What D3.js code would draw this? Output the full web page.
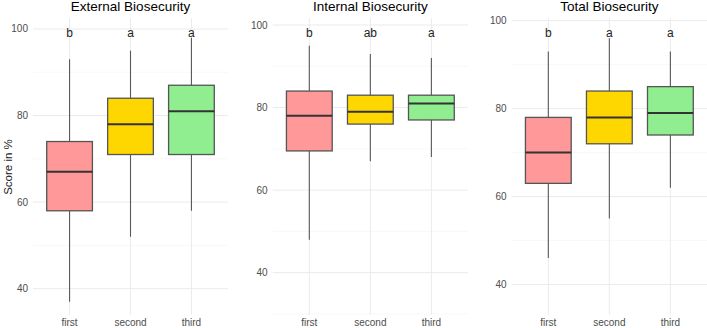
<!DOCTYPE html>
<html>
<meta charset="utf-8">
<title>Biosecurity scores</title>
<style>
	body {
		margin: 0;
		background: #fff;
		font-family: "Liberation Sans", Arial, sans-serif;
	}

	.grid-major {
		stroke: #ebebeb;
		stroke-width: 1;
	}

	.grid-minor {
		stroke: #f3f3f3;
		stroke-width: 0.6;
	}

	.tick-label {
		font-size: 10px;
		fill: #4d4d4d;
	}

	.title {
		font-size: 13.5px;
		fill: #000;
	}

	.letter {
		font-size: 12px;
		fill: #222;
	}
</style>

<body>
	<svg id="chart" width="707" height="328"></svg>

	<script src="https://cdnjs.cloudflare.com/ajax/libs/d3/7.8.5/d3.min.js"></script>
	<script>
		var groups = ["first", "second", "third"];
		var colors = ["#FF9999", "#FFD700", "#90EE90"];
		var titles = ["External Biosecurity", "Internal Biosecurity", "Total Biosecurity"];

		// box stats per group: [lower whisker, q1, median, q3, upper whisker]
		var external = [
			[37, 58, 67, 74, 93],
			[52, 71, 78, 84, 95],
			[58, 71, 81, 87, 98]
		];
		var internal = [
			[48, 69.5, 78, 84, 95],
			[67, 76, 79, 83, 93],
			[68, 77, 81, 83, 92]
		];
		var total = [
			[46, 63, 70, 78, 93],
			[55, 72, 78, 84, 96],
			[62, 74, 79, 85, 93]
		];

		var externalLetters = ["b", "a", "a"];
		var internalLetters = ["b", "ab", "a"];
		var totalLetters = ["b", "a", "a"];

		// y range of each panel (includes hidden outliers in the original)
		var yDomains = [[33.92, 102.54], [29.75, 101.70], [33.06, 100.61]];
		var letterY = [99.1, 98.1, 97.2];
		var majorTicks = [40, 60, 80, 100];
		var minorTicks = [30, 50, 70, 90];

		var panels = [
			{ title: titles[0], stats: external, letters: externalLetters, x0: 33, x1: 228 },
			{ title: titles[1], stats: internal, letters: internalLetters, x0: 272.7, x1: 468 },
			{ title: titles[2], stats: total, letters: totalLetters, x0: 511.7, x1: 707 }
		];

		var plotTop = 18,
			plotBottom = 315;

		var svg = d3.select("#chart");

		panels.forEach(function (p, i) {
			var g = svg.append("g");

			var y = d3.scaleLinear()
				.domain(yDomains[i])
				.range([plotBottom, plotTop]);

			var x = d3.scaleBand()
				.domain(groups)
				.range([p.x0, p.x1])
				.paddingOuter(0.1);

			var boxW = x.step() * 0.75;
			var cx = function (d) { return x(d) + x.bandwidth() / 2; };

			// grid
			g.selectAll(".grid-minor")
				.data(minorTicks.filter(function (t) { return t >= yDomains[i][0] && t <= yDomains[i][1]; }))
				.enter().append("line")
				.attr("class", "grid-minor")
				.attr("x1", p.x0).attr("x2", p.x1)
				.attr("y1", y).attr("y2", y);

			g.selectAll(".grid-h")
				.data(majorTicks)
				.enter().append("line")
				.attr("class", "grid-major")
				.attr("x1", p.x0).attr("x2", p.x1)
				.attr("y1", y).attr("y2", y);

			g.selectAll(".grid-v")
				.data(groups)
				.enter().append("line")
				.attr("class", "grid-major")
				.attr("x1", cx).attr("x2", cx)
				.attr("y1", plotTop).attr("y2", plotBottom);

			// axis labels
			g.selectAll(".ylab")
				.data(majorTicks)
				.enter().append("text")
				.attr("class", "tick-label")
				.attr("x", p.x0 - 5)
				.attr("y", y)
				.attr("dy", "0.35em")
				.attr("text-anchor", "end")
				.text(function (d) { return d; });

			g.selectAll(".xlab")
				.data(groups)
				.enter().append("text")
				.attr("class", "tick-label")
				.attr("x", cx)
				.attr("y", 326)
				.attr("text-anchor", "middle")
				.text(function (d) { return d; });

			// boxes
			var box = g.selectAll(".box")
				.data(p.stats)
				.enter().append("g");

			box.append("line")
				.attr("x1", function (d, j) { return cx(groups[j]); })
				.attr("x2", function (d, j) { return cx(groups[j]); })
				.attr("y1", function (d) { return y(d[0]); })
				.attr("y2", function (d) { return y(d[4]); })
				.attr("stroke", "#595959")
				.attr("stroke-width", 1.1);

			box.append("rect")
				.attr("x", function (d, j) { return cx(groups[j]) - boxW / 2; })
				.attr("width", boxW)
				.attr("y", function (d) { return y(d[3]); })
				.attr("height", function (d) { return y(d[1]) - y(d[3]); })
				.attr("fill", function (d, j) { return colors[j]; })
				.attr("stroke", "#555")
				.attr("stroke-width", 1.3);

			box.append("line")
				.attr("x1", function (d, j) { return cx(groups[j]) - boxW / 2; })
				.attr("x2", function (d, j) { return cx(groups[j]) + boxW / 2; })
				.attr("y1", function (d) { return y(d[2]); })
				.attr("y2", function (d) { return y(d[2]); })
				.attr("stroke", "#333")
				.attr("stroke-width", 2);

			// significance letters
			g.selectAll(".letter")
				.data(p.letters)
				.enter().append("text")
				.attr("class", "letter")
				.attr("x", function (d, j) { return cx(groups[j]); })
				.attr("y", y(letterY[i]))
				.attr("dy", "0.35em")
				.attr("text-anchor", "middle")
				.text(function (d) { return d; });

			// title
			g.append("text")
				.attr("class", "title")
				.attr("x", (p.x0 + p.x1) / 2)
				.attr("y", 11)
				.attr("text-anchor", "middle")
				.text(p.title);
		});

		svg.append("text")
			.attr("transform", "translate(8,167) rotate(-90)")
			.attr("text-anchor", "middle")
			.attr("dy", "0.35em")
			.style("font-size", "11.5px")
			.style("fill", "#222")
			.text("Score in %");
	</script>
</body>

</html>
